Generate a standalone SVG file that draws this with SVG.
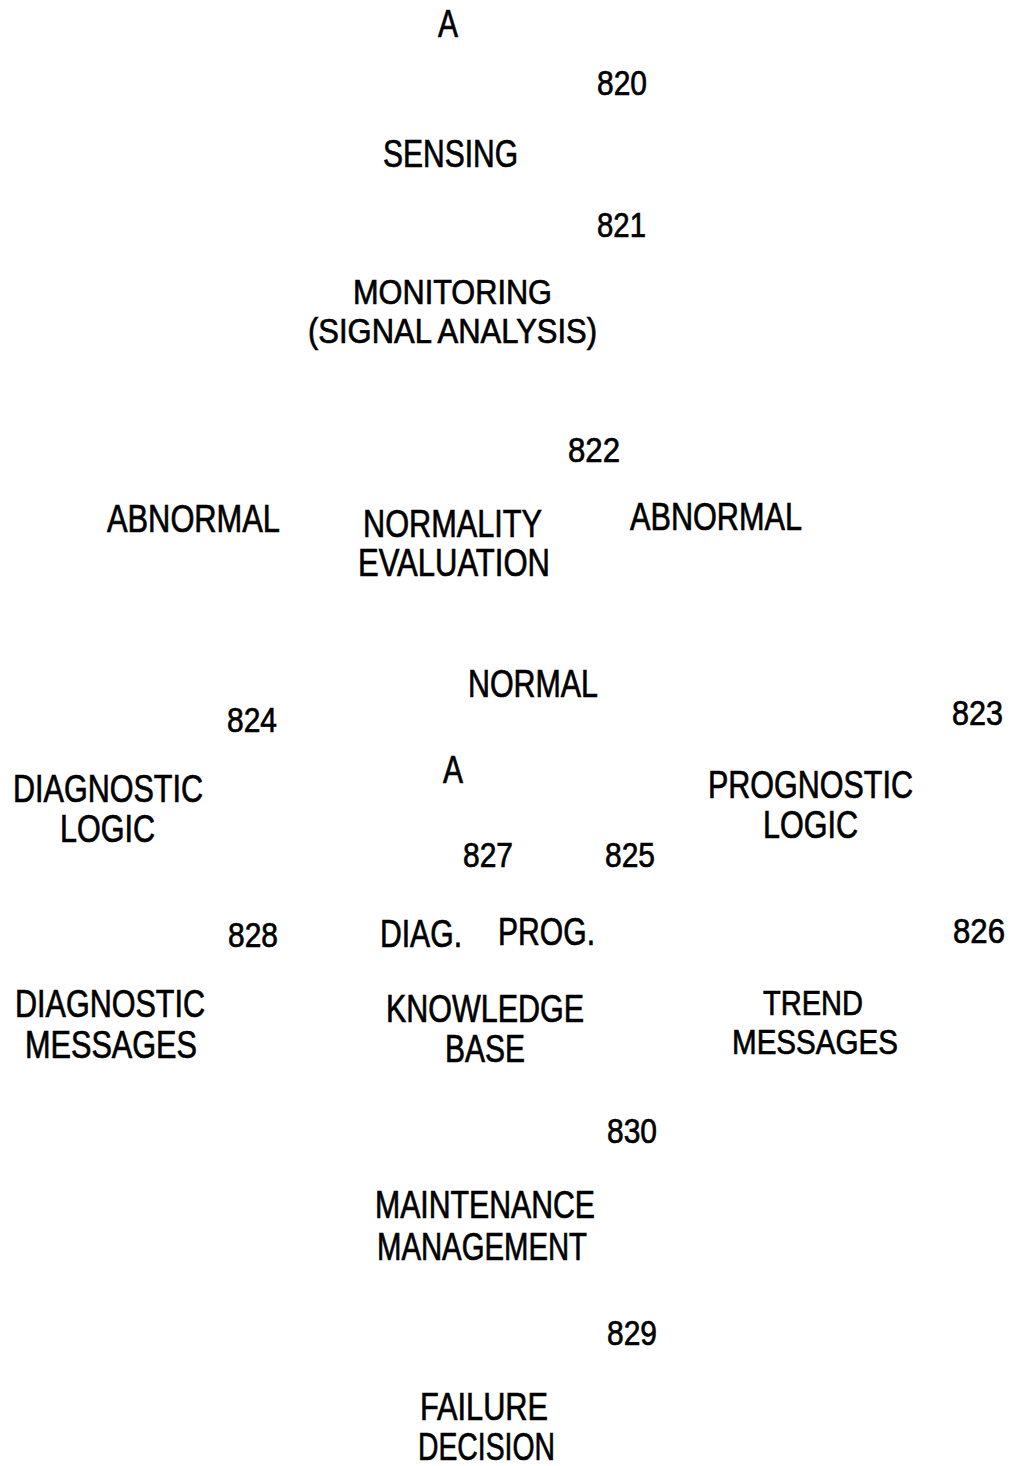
<svg xmlns="http://www.w3.org/2000/svg" width="1015" height="1466" viewBox="0 0 1015 1466">
  <style>
    text { font-family: "Liberation Sans", Arial, Helvetica, sans-serif; fill: #000; stroke: #000; stroke-width: 0.7px; }
    .lbl { font-size: 38px; }
    .tight { font-size: 35px; }
    .num { font-size: 35px; }
  </style>
  <rect width="1015" height="1466" fill="#fff"/>

  <!-- connectors: none are drawn in this sheet -->
  <g id="connectors"></g>

  <g id="connector-a-top">
    <text class="lbl" x="438" y="37" textLength="20" lengthAdjust="spacingAndGlyphs">A</text>
  </g>

  <g id="node-820-sensing">
    <text class="num" x="597" y="95" textLength="50" lengthAdjust="spacingAndGlyphs">820</text>
    <text class="lbl" x="383" y="167" textLength="135" lengthAdjust="spacingAndGlyphs">SENSING</text>
  </g>

  <g id="node-821-monitoring">
    <text class="num" x="597" y="237" textLength="49" lengthAdjust="spacingAndGlyphs">821</text>
    <text class="tight" x="353" y="304" textLength="199" lengthAdjust="spacingAndGlyphs">MONITORING</text>
    <text class="tight" x="308" y="343" textLength="289" lengthAdjust="spacingAndGlyphs">(SIGNAL ANALYSIS)</text>
  </g>

  <g id="node-822-normality">
    <text class="num" x="568" y="462" textLength="52" lengthAdjust="spacingAndGlyphs">822</text>
    <text class="lbl" x="363" y="537" textLength="179" lengthAdjust="spacingAndGlyphs">NORMALITY</text>
    <text class="lbl" x="358" y="576" textLength="192" lengthAdjust="spacingAndGlyphs">EVALUATION</text>
  </g>

  <g id="branch-labels">
    <text class="lbl" x="107" y="532" textLength="173" lengthAdjust="spacingAndGlyphs">ABNORMAL</text>
    <text class="lbl" x="630" y="530" textLength="172" lengthAdjust="spacingAndGlyphs">ABNORMAL</text>
    <text class="lbl" x="468" y="697" textLength="130" lengthAdjust="spacingAndGlyphs">NORMAL</text>
  </g>

  <g id="connector-a-mid">
    <text class="lbl" x="443" y="783" textLength="20" lengthAdjust="spacingAndGlyphs">A</text>
  </g>

  <g id="node-824-diagnostic-logic">
    <text class="num" x="227" y="732" textLength="50" lengthAdjust="spacingAndGlyphs">824</text>
    <text class="lbl" x="13" y="802" textLength="190" lengthAdjust="spacingAndGlyphs">DIAGNOSTIC</text>
    <text class="lbl" x="60" y="842" textLength="95" lengthAdjust="spacingAndGlyphs">LOGIC</text>
  </g>

  <g id="node-823-prognostic-logic">
    <text class="num" x="952" y="725" textLength="51" lengthAdjust="spacingAndGlyphs">823</text>
    <text class="lbl" x="708" y="798" textLength="205" lengthAdjust="spacingAndGlyphs">PROGNOSTIC</text>
    <text class="lbl" x="763" y="838" textLength="95" lengthAdjust="spacingAndGlyphs">LOGIC</text>
  </g>

  <g id="node-knowledge-base">
    <text class="num" x="463" y="867" textLength="50" lengthAdjust="spacingAndGlyphs">827</text>
    <text class="num" x="605" y="867" textLength="50" lengthAdjust="spacingAndGlyphs">825</text>
    <text class="lbl" x="380" y="947" textLength="82" lengthAdjust="spacingAndGlyphs">DIAG.</text>
    <text class="lbl" x="498" y="945" textLength="97" lengthAdjust="spacingAndGlyphs">PROG.</text>
    <text class="lbl" x="386" y="1022" textLength="198" lengthAdjust="spacingAndGlyphs">KNOWLEDGE</text>
    <text class="lbl" x="445" y="1062" textLength="80" lengthAdjust="spacingAndGlyphs">BASE</text>
  </g>

  <g id="node-828-diagnostic-messages">
    <text class="num" x="228" y="947" textLength="50" lengthAdjust="spacingAndGlyphs">828</text>
    <text class="lbl" x="15" y="1017" textLength="190" lengthAdjust="spacingAndGlyphs">DIAGNOSTIC</text>
    <text class="lbl" x="25" y="1058" textLength="172" lengthAdjust="spacingAndGlyphs">MESSAGES</text>
  </g>

  <g id="node-826-trend-messages">
    <text class="num" x="953" y="943" textLength="52" lengthAdjust="spacingAndGlyphs">826</text>
    <text class="tight" x="763" y="1015" textLength="100" lengthAdjust="spacingAndGlyphs">TREND</text>
    <text class="tight" x="732" y="1054" textLength="166" lengthAdjust="spacingAndGlyphs">MESSAGES</text>
  </g>

  <g id="node-830-maintenance">
    <text class="num" x="607" y="1143" textLength="50" lengthAdjust="spacingAndGlyphs">830</text>
    <text class="lbl" x="375" y="1218" textLength="220" lengthAdjust="spacingAndGlyphs">MAINTENANCE</text>
    <text class="lbl" x="377" y="1260" textLength="210" lengthAdjust="spacingAndGlyphs">MANAGEMENT</text>
  </g>

  <g id="node-829-failure">
    <text class="num" x="607" y="1345" textLength="50" lengthAdjust="spacingAndGlyphs">829</text>
    <text class="lbl" x="420" y="1420" textLength="128" lengthAdjust="spacingAndGlyphs">FAILURE</text>
    <text class="lbl" x="418" y="1460" textLength="137" lengthAdjust="spacingAndGlyphs">DECISION</text>
  </g>
</svg>
